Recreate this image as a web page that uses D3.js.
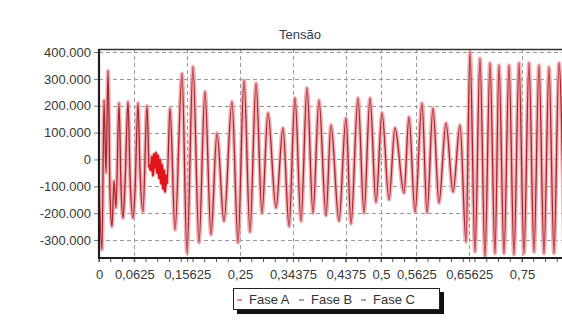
<!DOCTYPE html>
<html>
<head>
<meta charset="utf-8">
<script src="https://cdn.jsdelivr.net/npm/d3@7"></script>
<style>
  html, body { margin: 0; padding: 0; background: #fff; }
  svg { display: block; font-family: "Liberation Sans", Arial, sans-serif; }
</style>
</head>
<body>
<svg id="chart" width="562" height="327"></svg>
<script>
// Voltage waveform (Fase A): time in seconds, voltage in volts (turning points of the trace)
const timeSec = [
  0, 0.0053, 0.0089, 0.0124, 0.0160, 0.0195, 0.0230, 0.0266, 0.0301, 0.0355,
  0.0390, 0.0426, 0.0461, 0.0514, 0.0550, 0.0603, 0.0638, 0.0691, 0.0727, 0.0780,
  0.0851, 0.0887, 0.0922, 0.0940, 0.0957, 0.0975, 0.0993, 0.1011, 0.1028, 0.1046,
  0.1064, 0.1082, 0.1099, 0.1117, 0.1135, 0.1152, 0.1170, 0.1188, 0.1206, 0.1259,
  0.1348, 0.1472, 0.1560, 0.1667, 0.1773, 0.1879, 0.1986, 0.2092, 0.2216, 0.2358,
  0.2465, 0.2571, 0.2677, 0.2784, 0.2890, 0.2996, 0.3138, 0.3262, 0.3369, 0.3475,
  0.3582, 0.3688, 0.3794, 0.3901, 0.4025, 0.4113, 0.4255, 0.4379, 0.4468, 0.4592,
  0.4699, 0.4805, 0.4911, 0.5018, 0.5142, 0.5248, 0.5408, 0.5496, 0.5603, 0.5727,
  0.5816, 0.5922, 0.6028, 0.6152, 0.6277, 0.6401, 0.6507, 0.6578, 0.6667, 0.6755,
  0.6844, 0.6933, 0.7021, 0.7092, 0.7181, 0.7270, 0.7358, 0.7447, 0.7535, 0.7624,
  0.7713, 0.7801, 0.7890, 0.7979, 0.8067, 0.8156, 0.8245
];
const phaseA = [
  -100000, -336000, 220000, -50000, 330000, -120000, -250000, -80000, -180000, 210000,
  -100000, -218000, -90000, 215000, -60000, -218000, -120000, 210000, -40000, -195000,
  200000, -20000, -40000, 10000, -60000, 20000, -30000, 25000, -50000, 15000,
  -70000, 0, -90000, -20000, -110000, -40000, -120000, -60000, -90000, 190000,
  -262000, 320000, -348000, 345000, -310000, 252000, -280000, 98000, -230000, 215000,
  -310000, 295000, -270000, 284000, -200000, 173000, -180000, 117000, -250000, 229000,
  -230000, 266000, -200000, 221000, -210000, 128000, -230000, 154000, -240000, 229000,
  -200000, 229000, -160000, 173000, -150000, 117000, -125000, 158000, -195000, 210000,
  -199000, 191000, -162000, 135000, -121000, 128000, -307000, 400000, -344000, 377000,
  -362000, 359000, -350000, 351000, -350000, 351000, -355000, 359000, -350000, 359000,
  -345000, 351000, -350000, 344000, -350000, 359000, -340000
];

const chartTitle = "Tensão";
const seriesNames = ["Fase A", "Fase B", "Fase C"];
const xTickValues = [0, 0.0625, 0.15625, 0.25, 0.34375, 0.4375, 0.5, 0.5625, 0.65625, 0.75];
const xTickLabels = ["0", "0,0625", "0,15625", "0,25", "0,34375", "0,4375", "0,5", "0,5625", "0,65625", "0,75"];
const yTickValues = [-300000, -200000, -100000, 0, 100000, 200000, 300000, 400000];

const svg = d3.select("#chart");
const plot = { left: 99, top: 49, right: 566, bottom: 258 };

const x = d3.scaleLinear().domain([0, 0.75]).range([plot.left, 522]);
const y = d3.scaleLinear().domain([-300000, 400000]).range([240, 52]);

const ptBR = d3.formatLocale({ decimal: ",", thousands: ".", grouping: [3], currency: ["", ""], minus: "-" });
const fmtY = ptBR.format(",d");

// Title
svg.append("text")
  .attr("x", 300).attr("y", 39)
  .attr("text-anchor", "middle")
  .attr("font-size", 13)
  .attr("fill", "#2f3b58")
  .text(chartTitle);

// Grid lines
const grid = svg.append("g").attr("stroke", "#9a9a9a").attr("stroke-width", 1).attr("stroke-dasharray", "4,3");
grid.selectAll("line.h").data(yTickValues).join("line")
  .attr("class", "h")
  .attr("x1", plot.left).attr("x2", plot.right)
  .attr("y1", d => Math.round(y(d)) + 0.5).attr("y2", d => Math.round(y(d)) + 0.5);
grid.selectAll("line.v").data(xTickValues.slice(1)).join("line")
  .attr("class", "v")
  .attr("x1", d => Math.round(x(d)) + 0.5).attr("x2", d => Math.round(x(d)) + 0.5)
  .attr("y1", plot.top).attr("y2", plot.bottom);

// Waveform
svg.append("defs").append("clipPath").attr("id", "plotClip")
  .append("rect")
  .attr("x", plot.left + 1).attr("y", plot.top)
  .attr("width", plot.right - plot.left).attr("height", plot.bottom - plot.top);

const pts = timeSec.map((t, i) => [t, phaseA[i]]);
const line = d3.line().x(d => x(d[0])).y(d => y(d[1])).curve(d3.curveMonotoneX);
const wave = svg.append("g").attr("clip-path", "url(#plotClip)");
wave.append("path").datum(pts)
  .attr("d", line).attr("fill", "none")
  .attr("stroke", "#eba0a4").attr("stroke-opacity", 0.8)
  .attr("stroke-width", 4).attr("stroke-linejoin", "round");
wave.append("path").datum(pts)
  .attr("d", line).attr("fill", "none")
  .attr("stroke", "#ab2530").attr("stroke-width", 1.3).attr("stroke-linejoin", "round");
// The fast disturbance around 0,1 s shows as a dense bright-red trace
const burst = pts.filter(d => d[0] >= 0.0887 && d[0] <= 0.1206);
wave.append("path").datum(burst)
  .attr("d", line).attr("fill", "none")
  .attr("stroke", "#e3141c").attr("stroke-width", 2.4).attr("stroke-linejoin", "round");

// Plot frame (top border)
svg.append("line")
  .attr("x1", plot.left).attr("x2", plot.right)
  .attr("y1", plot.top + 0.5).attr("y2", plot.top + 0.5)
  .attr("stroke", "#333").attr("stroke-width", 1.3);

// Y axis
const yAxis = d3.axisLeft(y).tickValues(yTickValues).tickFormat(fmtY).tickSize(5).tickPadding(3);
const gy = svg.append("g").attr("transform", `translate(${plot.left},0)`).call(yAxis);
gy.select(".domain").remove();
gy.selectAll(".tick line").attr("stroke", "#777");
gy.selectAll(".tick text").attr("font-size", 13).attr("fill", "#383838")
  .attr("font-family", "Liberation Sans, Arial, sans-serif");
svg.append("line")
  .attr("x1", plot.left).attr("x2", plot.left)
  .attr("y1", plot.top).attr("y2", plot.bottom + 1)
  .attr("stroke", "#1e1e1e").attr("stroke-width", 2.2);

// X axis: minor ticks, labelled ticks and the axis line
const minor = d3.range(0, 0.8126, 0.0625 / 3);
svg.append("g").selectAll("line").data(minor).join("line")
  .attr("x1", d => x(d)).attr("x2", d => x(d))
  .attr("y1", plot.bottom - 1).attr("y2", plot.bottom + 4)
  .attr("stroke", "#555").attr("stroke-width", 1);
const xAxis = d3.axisBottom(x).tickValues(xTickValues)
  .tickFormat((d, i) => xTickLabels[i]).tickSize(4).tickPadding(8);
const gx = svg.append("g").attr("transform", `translate(0,${plot.bottom})`).call(xAxis);
gx.select(".domain").remove();
gx.selectAll(".tick line").attr("stroke", "#555");
gx.selectAll(".tick text").attr("font-size", 13).attr("fill", "#383838")
  .attr("font-family", "Liberation Sans, Arial, sans-serif");
svg.append("line")
  .attr("x1", plot.left - 1).attr("x2", plot.right)
  .attr("y1", plot.bottom).attr("y2", plot.bottom)
  .attr("stroke", "#1e1e1e").attr("stroke-width", 2.2);

// Legend with drop shadow
const lg = svg.append("g").attr("transform", "translate(233,288)");
lg.append("rect").attr("x", 4).attr("y", 4).attr("width", 207).attr("height", 22).attr("fill", "#111");
lg.append("rect").attr("x", 0.5).attr("y", 0.5).attr("width", 206).attr("height", 21)
  .attr("fill", "#fff").attr("stroke", "#222").attr("stroke-width", 1);
const markerColors = ["#e06070", "#8a8a8a", "#8a8a8a"];
const entryX = [4, 66, 128];
seriesNames.forEach((name, i) => {
  lg.append("line")
    .attr("x1", entryX[i]).attr("x2", entryX[i] + 5)
    .attr("y1", 12).attr("y2", 12)
    .attr("stroke", markerColors[i]).attr("stroke-width", 1.5);
  lg.append("text")
    .attr("x", entryX[i] + 12).attr("y", 16)
    .attr("font-size", 13).attr("fill", "#333")
    .text(name);
});
</script>
</body>
</html>
